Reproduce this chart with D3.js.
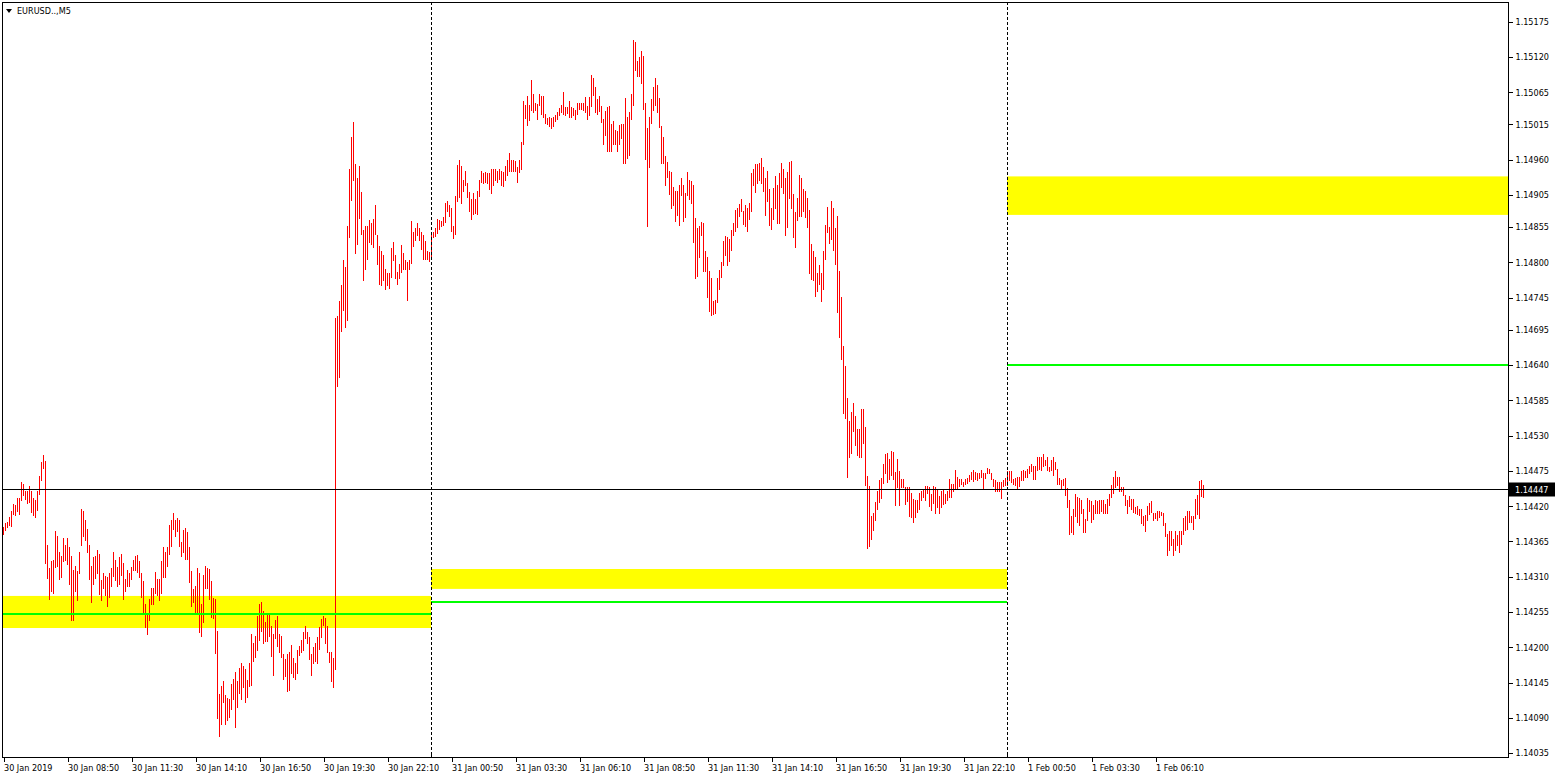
<!DOCTYPE html>
<html>
<head>
<meta charset="utf-8">
<script src="https://cdn.jsdelivr.net/npm/d3@7"></script>
<style>
    body { margin: 0; background: #fff; }
    text { font-family: "DejaVu Sans Condensed", "DejaVu Sans", sans-serif; font-size: 9px; fill: #000; }
</style>
</head>
<body>
<script>
// EURUSD M5 bars, 30 Jan 2019 06:10 onwards (one bar every 5 minutes)
const symbolTitle = "EURUSD..,M5"
const firstBar = "2019-01-30 06:10"
const barMinutes = 5

const highs = [
    1.14387, 1.14393, 1.14395, 1.14403, 1.14413, 1.14424, 1.14422, 1.14433, 1.14433, 1.14457,
    1.14455, 1.14444, 1.14444, 1.14452, 1.14444, 1.14433, 1.14430, 1.14444, 1.14467, 1.14489,
    1.14499, 1.14491, 1.14359, 1.14323, 1.14335, 1.14336, 1.14382, 1.14374, 1.14348, 1.14343,
    1.14371, 1.14360, 1.14371, 1.14357, 1.14342, 1.14321, 1.14326, 1.14319, 1.14349, 1.14416,
    1.14413, 1.14399, 1.14385, 1.14360, 1.14326, 1.14340, 1.14342, 1.14352, 1.14346, 1.14305,
    1.14315, 1.14311, 1.14309, 1.14315, 1.14324, 1.14349, 1.14336, 1.14325, 1.14340, 1.14346,
    1.14332, 1.14306, 1.14321, 1.14315, 1.14325, 1.14336, 1.14342, 1.14344, 1.14335, 1.14315,
    1.14304, 1.14267, 1.14253, 1.14275, 1.14293, 1.14292, 1.14318, 1.14307, 1.14306, 1.14335,
    1.14357, 1.14348, 1.14357, 1.14391, 1.14399, 1.14409, 1.14399, 1.14402, 1.14398, 1.14364,
    1.14383, 1.14386, 1.14380, 1.14357, 1.14319, 1.14291, 1.14295, 1.14324, 1.14315, 1.14267,
    1.14313, 1.14326, 1.14323, 1.14322, 1.14304, 1.14277, 1.14276, 1.14225, 1.14127, 1.14140,
    1.14148, 1.14126, 1.14121, 1.14120, 1.14143, 1.14151, 1.14162, 1.14147, 1.14168, 1.14176,
    1.14170, 1.14166, 1.14149, 1.14176, 1.14220, 1.14207, 1.14217, 1.14249, 1.14267, 1.14270,
    1.14257, 1.14239, 1.14250, 1.14250, 1.14233, 1.14220, 1.14243, 1.14248, 1.14221, 1.14218,
    1.14190, 1.14182, 1.14189, 1.14193, 1.14204, 1.14184, 1.14176, 1.14196, 1.14202, 1.14211,
    1.14224, 1.14233, 1.14224, 1.14216, 1.14190, 1.14200, 1.14207, 1.14216, 1.14231, 1.14244,
    1.14249, 1.14246, 1.14233, 1.14193, 1.14193, 1.14184, 1.14714, 1.14716, 1.14739, 1.14765,
    1.14804, 1.14792, 1.14857, 1.14945, 1.14995, 1.15019, 1.14954, 1.14931, 1.14950, 1.14909,
    1.14851, 1.14857, 1.14857, 1.14866, 1.14861, 1.14867, 1.14889, 1.14843, 1.14825, 1.14817,
    1.14811, 1.14790, 1.14783, 1.14783, 1.14822, 1.14831, 1.14812, 1.14785, 1.14797, 1.14827,
    1.14815, 1.14804, 1.14800, 1.14804, 1.14864, 1.14847, 1.14853, 1.14861, 1.14854, 1.14847,
    1.14843, 1.14833, 1.14818, 1.14816, 1.14843, 1.14847, 1.14853, 1.14868, 1.14866, 1.14864,
    1.14870, 1.14892, 1.14896, 1.14889, 1.14884, 1.14857, 1.14904, 1.14951, 1.14959, 1.14950,
    1.14929, 1.14943, 1.14923, 1.14909, 1.14899, 1.14908, 1.14898, 1.14911, 1.14929, 1.14942,
    1.14939, 1.14941, 1.14939, 1.14939, 1.14945, 1.14946, 1.14946, 1.14943, 1.14946, 1.14942,
    1.14941, 1.14950, 1.14959, 1.14970, 1.14960, 1.14959, 1.14958, 1.14948, 1.14959, 1.14988,
    1.15051, 1.15046, 1.15059, 1.15046, 1.15084, 1.15063, 1.15048, 1.15047, 1.15062, 1.15059,
    1.15059, 1.15031, 1.15025, 1.15027, 1.15025, 1.15027, 1.15029, 1.15035, 1.15040, 1.15046,
    1.15065, 1.15042, 1.15042, 1.15052, 1.15042, 1.15041, 1.15037, 1.15048, 1.15049, 1.15049,
    1.15049, 1.15058, 1.15044, 1.15058, 1.15092, 1.15087, 1.15073, 1.15054, 1.15060, 1.15044,
    1.15023, 1.15036, 1.15042, 1.15043, 1.15016, 1.15021, 1.15006, 1.15005, 1.15014, 1.15016,
    1.15016, 1.15056, 1.15027, 1.15034, 1.15063, 1.15146, 1.15143, 1.15114, 1.15120, 1.15130,
    1.15121, 1.15049, 1.15009, 1.15027, 1.15054, 1.15074, 1.15088, 1.15077, 1.15056, 1.15012,
    1.14996, 1.14966, 1.14956, 1.14943, 1.14941, 1.14918, 1.14911, 1.14912, 1.14920, 1.14932,
    1.14921, 1.14908, 1.14941, 1.14929, 1.14927, 1.14921, 1.14869, 1.14853, 1.14857, 1.14863,
    1.14861, 1.14818, 1.14809, 1.14786, 1.14776, 1.14739, 1.14742, 1.14776, 1.14788, 1.14801,
    1.14834, 1.14841, 1.14840, 1.14836, 1.14850, 1.14862, 1.14881, 1.14885, 1.14891, 1.14898,
    1.14880, 1.14889, 1.14885, 1.14892, 1.14940, 1.14946, 1.14953, 1.14953, 1.14955, 1.14962,
    1.14948, 1.14931, 1.14943, 1.14915, 1.14885, 1.14916, 1.14934, 1.14921, 1.14940, 1.14955,
    1.14946, 1.14931, 1.14941, 1.14956, 1.14958, 1.14906, 1.14878, 1.14900, 1.14936, 1.14931,
    1.14915, 1.14912, 1.14901, 1.14881, 1.14828, 1.14818, 1.14808, 1.14783, 1.14796, 1.14784,
    1.14818, 1.14858, 1.14886, 1.14855, 1.14895, 1.14884, 1.14853, 1.14872, 1.14786, 1.14746,
    1.14669, 1.14638, 1.14588, 1.14553, 1.14566, 1.14580, 1.14560, 1.14541, 1.14540, 1.14572,
    1.14572, 1.14544, 1.14467, 1.14451, 1.14405, 1.14409, 1.14427, 1.14443, 1.14461, 1.14464,
    1.14486, 1.14502, 1.14503, 1.14494, 1.14506, 1.14505, 1.14473, 1.14493, 1.14474, 1.14463,
    1.14462, 1.14450, 1.14450, 1.14450, 1.14440, 1.14431, 1.14430, 1.14430, 1.14440, 1.14444,
    1.14446, 1.14452, 1.14451, 1.14450, 1.14439, 1.14452, 1.14450, 1.14446, 1.14436, 1.14444,
    1.14446, 1.14439, 1.14444, 1.14463, 1.14454, 1.14454, 1.14476, 1.14466, 1.14463, 1.14463,
    1.14457, 1.14462, 1.14464, 1.14469, 1.14473, 1.14476, 1.14473, 1.14472, 1.14471, 1.14477,
    1.14472, 1.14472, 1.14479, 1.14478, 1.14472, 1.14463, 1.14461, 1.14458, 1.14458, 1.14458,
    1.14461, 1.14464, 1.14475, 1.14475, 1.14475, 1.14463, 1.14464, 1.14465, 1.14465, 1.14475,
    1.14476, 1.14475, 1.14478, 1.14483, 1.14486, 1.14482, 1.14482, 1.14496, 1.14496, 1.14496,
    1.14501, 1.14492, 1.14496, 1.14481, 1.14492, 1.14496, 1.14489, 1.14478, 1.14464, 1.14461,
    1.14462, 1.14464, 1.14448, 1.14429, 1.14405, 1.14416, 1.14439, 1.14435, 1.14432, 1.14430,
    1.14415, 1.14400, 1.14433, 1.14430, 1.14428, 1.14422, 1.14430, 1.14428, 1.14430, 1.14430,
    1.14429, 1.14424, 1.14431, 1.14439, 1.14453, 1.14465, 1.14474, 1.14466, 1.14465, 1.14450,
    1.14450, 1.14437, 1.14429, 1.14436, 1.14431, 1.14431, 1.14419, 1.14420, 1.14415, 1.14415,
    1.14405, 1.14406, 1.14420, 1.14425, 1.14428, 1.14410, 1.14410, 1.14413, 1.14412, 1.14411,
    1.14410, 1.14393, 1.14376, 1.14382, 1.14382, 1.14368, 1.14381, 1.14375, 1.14382, 1.14382,
    1.14402, 1.14405, 1.14412, 1.14412, 1.14404, 1.14404, 1.14431, 1.14438, 1.14459, 1.14461,
    1.14453
]

const lows = [
    1.14377, 1.14383, 1.14387, 1.14390, 1.14389, 1.14408, 1.14406, 1.14412, 1.14408, 1.14430,
    1.14437, 1.14431, 1.14425, 1.14426, 1.14411, 1.14406, 1.14403, 1.14414, 1.14439, 1.14461,
    1.14480, 1.14331, 1.14308, 1.14276, 1.14288, 1.14285, 1.14325, 1.14326, 1.14307, 1.14309,
    1.14335, 1.14336, 1.14330, 1.14299, 1.14242, 1.14243, 1.14288, 1.14274, 1.14315, 1.14359,
    1.14374, 1.14367, 1.14348, 1.14307, 1.14271, 1.14298, 1.14308, 1.14315, 1.14283, 1.14274,
    1.14293, 1.14282, 1.14265, 1.14279, 1.14296, 1.14311, 1.14305, 1.14295, 1.14299, 1.14313,
    1.14276, 1.14288, 1.14295, 1.14295, 1.14307, 1.14320, 1.14320, 1.14318, 1.14310, 1.14279,
    1.14253, 1.14232, 1.14220, 1.14243, 1.14267, 1.14267, 1.14284, 1.14282, 1.14274, 1.14284,
    1.14309, 1.14309, 1.14327, 1.14346, 1.14358, 1.14384, 1.14373, 1.14381, 1.14358, 1.14342,
    1.14348, 1.14338, 1.14338, 1.14302, 1.14265, 1.14270, 1.14252, 1.14252, 1.14223, 1.14218,
    1.14240, 1.14293, 1.14293, 1.14276, 1.14247, 1.14245, 1.14191, 1.14089, 1.14061, 1.14080,
    1.14114, 1.14080, 1.14086, 1.14091, 1.14104, 1.14119, 1.14075, 1.14107, 1.14128, 1.14120,
    1.14138, 1.14114, 1.14123, 1.14139, 1.14141, 1.14179, 1.14185, 1.14195, 1.14211, 1.14226,
    1.14206, 1.14210, 1.14209, 1.14217, 1.14186, 1.14157, 1.14215, 1.14202, 1.14193, 1.14185,
    1.14151, 1.14155, 1.14132, 1.14133, 1.14160, 1.14153, 1.14150, 1.14160, 1.14188, 1.14192,
    1.14195, 1.14215, 1.14207, 1.14182, 1.14157, 1.14176, 1.14179, 1.14175, 1.14197, 1.14216,
    1.14235, 1.14206, 1.14193, 1.14177, 1.14147, 1.14138, 1.14166, 1.14607, 1.14621, 1.14693,
    1.14726, 1.14699, 1.14710, 1.14840, 1.14897, 1.14929, 1.14814, 1.14828, 1.14869, 1.14844,
    1.14772, 1.14789, 1.14805, 1.14831, 1.14828, 1.14824, 1.14844, 1.14797, 1.14767, 1.14765,
    1.14773, 1.14758, 1.14764, 1.14760, 1.14777, 1.14803, 1.14775, 1.14767, 1.14775, 1.14785,
    1.14789, 1.14790, 1.14741, 1.14789, 1.14799, 1.14825, 1.14835, 1.14842, 1.14835, 1.14821,
    1.14806, 1.14806, 1.14805, 1.14802, 1.14808, 1.14840, 1.14841, 1.14846, 1.14852, 1.14856,
    1.14859, 1.14863, 1.14880, 1.14873, 1.14849, 1.14838, 1.14844, 1.14896, 1.14902, 1.14893,
    1.14911, 1.14920, 1.14902, 1.14880, 1.14868, 1.14875, 1.14877, 1.14876, 1.14903, 1.14925,
    1.14923, 1.14925, 1.14924, 1.14914, 1.14908, 1.14920, 1.14928, 1.14925, 1.14930, 1.14920,
    1.14919, 1.14929, 1.14936, 1.14942, 1.14942, 1.14942, 1.14942, 1.14925, 1.14941, 1.14946,
    1.14985, 1.15025, 1.15014, 1.15022, 1.15038, 1.15034, 1.15037, 1.15023, 1.15046, 1.15032,
    1.15026, 1.15017, 1.15016, 1.15013, 1.15009, 1.15012, 1.15020, 1.15023, 1.15029, 1.15035,
    1.15031, 1.15029, 1.15033, 1.15027, 1.15027, 1.15029, 1.15023, 1.15031, 1.15039, 1.15039,
    1.15038, 1.15034, 1.15023, 1.15029, 1.15043, 1.15061, 1.15034, 1.15031, 1.15036, 1.15019,
    1.14984, 1.14998, 1.14974, 1.14974, 1.14974, 1.14984, 1.14984, 1.14974, 1.14985, 1.14994,
    1.14955, 1.14955, 1.14963, 1.14967, 1.15023, 1.15046, 1.15100, 1.15090, 1.15091, 1.15079,
    1.15039, 1.14961, 1.14856, 1.14948, 1.15018, 1.15037, 1.15045, 1.15034, 1.15011, 1.14955,
    1.14955, 1.14920, 1.14933, 1.14907, 1.14884, 1.14890, 1.14865, 1.14874, 1.14858, 1.14905,
    1.14864, 1.14870, 1.14905, 1.14898, 1.14893, 1.14831, 1.14776, 1.14779, 1.14809, 1.14842,
    1.14786, 1.14786, 1.14746, 1.14724, 1.14718, 1.14720, 1.14721, 1.14738, 1.14758, 1.14777,
    1.14796, 1.14811, 1.14796, 1.14802, 1.14820, 1.14842, 1.14849, 1.14855, 1.14873, 1.14880,
    1.14860, 1.14856, 1.14849, 1.14867, 1.14880, 1.14921, 1.14909, 1.14923, 1.14928, 1.14923,
    1.14911, 1.14874, 1.14896, 1.14859, 1.14852, 1.14868, 1.14884, 1.14861, 1.14861, 1.14917,
    1.14908, 1.14843, 1.14855, 1.14900, 1.14884, 1.14839, 1.14824, 1.14866, 1.14872, 1.14872,
    1.14880, 1.14870, 1.14855, 1.14783, 1.14774, 1.14772, 1.14747, 1.14755, 1.14767, 1.14740,
    1.14758, 1.14806, 1.14847, 1.14830, 1.14837, 1.14820, 1.14797, 1.14722, 1.14684, 1.14649,
    1.14565, 1.14558, 1.14465, 1.14496, 1.14503, 1.14537, 1.14516, 1.14499, 1.14496, 1.14496,
    1.14519, 1.14453, 1.14355, 1.14358, 1.14369, 1.14383, 1.14398, 1.14416, 1.14427, 1.14432,
    1.14456, 1.14472, 1.14458, 1.14463, 1.14469, 1.14462, 1.14422, 1.14450, 1.14422, 1.14450,
    1.14450, 1.14424, 1.14428, 1.14404, 1.14403, 1.14395, 1.14403, 1.14411, 1.14416, 1.14429,
    1.14435, 1.14429, 1.14440, 1.14420, 1.14414, 1.14425, 1.14409, 1.14418, 1.14410, 1.14418,
    1.14423, 1.14425, 1.14430, 1.14435, 1.14435, 1.14443, 1.14446, 1.14449, 1.14451, 1.14455,
    1.14451, 1.14454, 1.14456, 1.14459, 1.14462, 1.14459, 1.14462, 1.14461, 1.14464, 1.14465,
    1.14447, 1.14464, 1.14472, 1.14472, 1.14462, 1.14451, 1.14444, 1.14444, 1.14444, 1.14432,
    1.14452, 1.14453, 1.14453, 1.14460, 1.14457, 1.14454, 1.14453, 1.14447, 1.14451, 1.14461,
    1.14461, 1.14465, 1.14465, 1.14471, 1.14474, 1.14463, 1.14463, 1.14476, 1.14478, 1.14477,
    1.14482, 1.14484, 1.14476, 1.14474, 1.14476, 1.14469, 1.14478, 1.14454, 1.14454, 1.14449,
    1.14453, 1.14437, 1.14418, 1.14376, 1.14380, 1.14376, 1.14404, 1.14395, 1.14391, 1.14409,
    1.14379, 1.14380, 1.14398, 1.14413, 1.14395, 1.14400, 1.14409, 1.14410, 1.14410, 1.14412,
    1.14409, 1.14410, 1.14409, 1.14422, 1.14434, 1.14441, 1.14450, 1.14453, 1.14444, 1.14444,
    1.14437, 1.14422, 1.14410, 1.14420, 1.14415, 1.14411, 1.14409, 1.14408, 1.14406, 1.14393,
    1.14390, 1.14381, 1.14399, 1.14408, 1.14411, 1.14398, 1.14401, 1.14398, 1.14403, 1.14406,
    1.14391, 1.14373, 1.14344, 1.14352, 1.14359, 1.14344, 1.14352, 1.14360, 1.14348, 1.14361,
    1.14376, 1.14383, 1.14384, 1.14395, 1.14395, 1.14384, 1.14401, 1.14408, 1.14401, 1.14436,
    1.14435
]

const lastPrice = 1.14447

const priceTicks = [1.15175, 1.15120, 1.15065, 1.15015, 1.14960, 1.14905, 1.14855, 1.14800, 1.14745, 1.14695, 1.14640,
    1.14585, 1.14530, 1.14475, 1.14420, 1.14365, 1.14310, 1.14255, 1.14200, 1.14145, 1.14090, 1.14035]

const timeTicks = ["2019-01-30 06:10", "2019-01-30 08:50", "2019-01-30 11:30", "2019-01-30 14:10", "2019-01-30 16:50",
    "2019-01-30 19:30", "2019-01-30 22:10", "2019-01-31 00:50", "2019-01-31 03:30", "2019-01-31 06:10",
    "2019-01-31 08:50", "2019-01-31 11:30", "2019-01-31 14:10", "2019-01-31 16:50", "2019-01-31 19:30",
    "2019-01-31 22:10", "2019-02-01 00:50", "2019-02-01 03:30", "2019-02-01 06:10"]
const timeTickLabels = ["30 Jan 2019", "30 Jan 08:50", "30 Jan 11:30", "30 Jan 14:10", "30 Jan 16:50",
    "30 Jan 19:30", "30 Jan 22:10", "31 Jan 00:50", "31 Jan 03:30", "31 Jan 06:10",
    "31 Jan 08:50", "31 Jan 11:30", "31 Jan 14:10", "31 Jan 16:50", "31 Jan 19:30",
    "31 Jan 22:10", "1 Feb 00:50", "1 Feb 03:30", "1 Feb 06:10"]

const daySeparators = ["2019-01-31 00:00", "2019-02-01 00:00"]

// daily zones: yellow band + green level
const zoneStart = ["2019-01-30 00:00", "2019-01-31 00:00", "2019-02-01 00:00"]
const zoneEnd = ["2019-01-31 00:00", "2019-02-01 00:00", "2019-02-02 00:00"]
const zoneHigh = [1.14280, 1.14322, 1.14934]
const zoneLow = [1.14230, 1.14291, 1.14874]
const zoneLevel = [1.14252, 1.14271, 1.14640]

const W = 1555, H = 778
const plot = { left: 2, top: 2, right: 1508, bottom: 757 }

const parseTime = d3.timeParse("%Y-%m-%d %H:%M")
const t0 = parseTime(firstBar)
const bars = highs.map((h, i) => ({
    time: d3.timeMinute.offset(t0, i * barMinutes),
    high: h,
    low: lows[i]
}))

const xScale = d3.scaleTime()
    .domain([t0, bars[bars.length - 1].time])
    .range([3, 3 + 2 * (bars.length - 1)])

const yScale = d3.scaleLinear()
    .domain([1.14035, 1.15175])
    .range([753.1, 21.8])

const svg = d3.select("body")
    .append("svg")
    .attr("width", W)
    .attr("height", H)
    .style("display", "block")
    .style("background", "white")

svg.append("clipPath")
    .attr("id", "plotClip")
    .append("rect")
    .attr("x", plot.left)
    .attr("y", plot.top)
    .attr("width", plot.right - plot.left)
    .attr("height", plot.bottom - plot.top)

const area = svg.append("g").attr("clip-path", "url(#plotClip)")

// yellow zones
area.selectAll("rect.zone")
    .data(zoneHigh)
    .enter()
    .append("rect")
    .attr("class", "zone")
    .attr("x", (d, i) => xScale(parseTime(zoneStart[i])))
    .attr("width", (d, i) => xScale(parseTime(zoneEnd[i])) - xScale(parseTime(zoneStart[i])))
    .attr("y", d => yScale(d))
    .attr("height", (d, i) => yScale(zoneLow[i]) - yScale(d))
    .attr("fill", "#ffff00")

// bars
area.selectAll("line.bar")
    .data(bars)
    .enter()
    .append("line")
    .attr("class", "bar")
    .attr("x1", d => Math.round(xScale(d.time)) + 0.5)
    .attr("x2", d => Math.round(xScale(d.time)) + 0.5)
    .attr("y1", d => Math.round(yScale(d.high)))
    .attr("y2", d => Math.round(yScale(d.low)) + 1)
    .attr("stroke", "#ff0000")
    .attr("stroke-width", 1)
    .attr("shape-rendering", "crispEdges")

// green levels
area.selectAll("line.level")
    .data(zoneLevel)
    .enter()
    .append("line")
    .attr("class", "level")
    .attr("x1", (d, i) => xScale(parseTime(zoneStart[i])))
    .attr("x2", (d, i) => xScale(parseTime(zoneEnd[i])))
    .attr("y1", d => Math.round(yScale(d)))
    .attr("y2", d => Math.round(yScale(d)))
    .attr("stroke", "#00ff00")
    .attr("stroke-width", 2)
    .attr("shape-rendering", "crispEdges")

// day separators
area.selectAll("line.sep")
    .data(daySeparators)
    .enter()
    .append("line")
    .attr("class", "sep")
    .attr("x1", d => Math.round(xScale(parseTime(d))) + 0.5)
    .attr("x2", d => Math.round(xScale(parseTime(d))) + 0.5)
    .attr("y1", plot.top)
    .attr("y2", plot.bottom)
    .attr("stroke", "#000")
    .attr("stroke-dasharray", "3,2")
    .attr("shape-rendering", "crispEdges")

// bid line
area.append("line")
    .attr("x1", plot.left)
    .attr("x2", plot.right)
    .attr("y1", Math.round(yScale(lastPrice)) + 0.5)
    .attr("y2", Math.round(yScale(lastPrice)) + 0.5)
    .attr("stroke", "#000")
    .attr("shape-rendering", "crispEdges")

// frame
svg.append("rect")
    .attr("x", plot.left + 0.5)
    .attr("y", plot.top + 0.5)
    .attr("width", plot.right - plot.left)
    .attr("height", plot.bottom - plot.top)
    .attr("fill", "none")
    .attr("stroke", "#000")
    .attr("shape-rendering", "crispEdges")

// price axis
const yAxis = d3.axisRight(yScale)
    .tickValues(priceTicks)
    .tickFormat(d3.format(".5f"))
    .tickSize(4)
    .tickPadding(3)
    .tickSizeOuter(0)

const yAxisG = svg.append("g")
    .attr("transform", `translate(${plot.right + 0.5},0)`)
    .call(yAxis)
yAxisG.select(".domain").remove()
yAxisG.selectAll("line").attr("stroke", "#000").attr("shape-rendering", "crispEdges")
yAxisG.selectAll("text").attr("font-size", null).attr("font-family", null)

// bid label on price axis
const bidY = Math.round(yScale(lastPrice)) + 0.5
svg.append("rect")
    .attr("x", plot.right + 1)
    .attr("y", bidY - 7)
    .attr("width", W - plot.right - 1)
    .attr("height", 14)
    .attr("fill", "#000")
svg.append("text")
    .attr("x", plot.right + 7)
    .attr("y", bidY)
    .attr("dy", "0.35em")
    .style("fill", "#fff")
    .text(d3.format(".5f")(lastPrice))

// time axis
const xAxis = d3.axisBottom(xScale)
    .tickValues(timeTicks.map(parseTime))
    .tickFormat((d, i) => timeTickLabels[i])
    .tickSize(4)
    .tickSizeOuter(0)

const xAxisG = svg.append("g")
    .attr("transform", `translate(0.5,${plot.bottom + 0.5})`)
    .call(xAxis)
xAxisG.select(".domain").remove()
xAxisG.selectAll("line").attr("stroke", "#000").attr("shape-rendering", "crispEdges")
xAxisG.selectAll("text")
    .attr("font-size", null)
    .attr("font-family", null)
    .attr("text-anchor", "start")
    .attr("x", 0)
    .attr("y", 7)

// small separator marks on the time axis
svg.selectAll("line.sepTick")
    .data(daySeparators)
    .enter()
    .append("line")
    .attr("x1", d => Math.round(xScale(parseTime(d))) + 0.5)
    .attr("x2", d => Math.round(xScale(parseTime(d))) + 0.5)
    .attr("y1", plot.bottom - 3)
    .attr("y2", plot.bottom)
    .attr("stroke", "#000")
    .attr("shape-rendering", "crispEdges")

// title
svg.append("path")
    .attr("d", "M6,9 L12,9 L9,13 Z")
    .attr("fill", "#000")
svg.append("text")
    .attr("x", 17)
    .attr("y", 11)
    .attr("dy", "0.35em")
    .text(symbolTitle)
</script>
</body>
</html>
